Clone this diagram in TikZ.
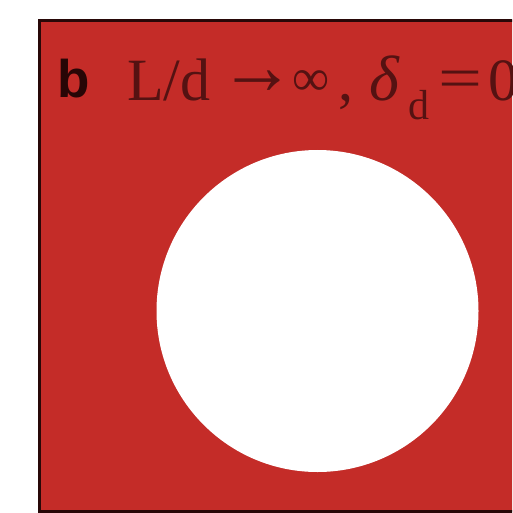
\documentclass[tikz,border=0pt]{standalone}
\usepackage{graphicx}
\usepackage{fontspec}
\newfontfamily\serfont{Liberation Serif}
\newfontfamily\sanfont{Liberation Sans}
\definecolor{panelred}{RGB}{196,44,40}
\definecolor{edgedark}{RGB}{40,8,8}
\definecolor{inkred}{RGB}{85,18,18}
\definecolor{inkdark}{RGB}{40,6,6}
\tikzset{
  txt/.style={inner sep=0pt, outer sep=0pt, anchor=base west, text=inkred, font=\serfont\fontsize{60}{60}\selectfont},
  sub/.style={txt, font=\serfont\fontsize{42}{42}\selectfont},
  mid/.style={inner sep=0pt, outer sep=0pt, anchor=center, text=inkred},
}
\begin{document}
\begin{tikzpicture}[x=1pt,y=-1pt]
\useasboundingbox (0,0) rectangle (512,513);
\clip (0,0) rectangle (512,513);
\fill[white] (0,0) rectangle (512,513);
\draw[fill=panelred, draw=edgedark, line width=3pt] (39,20.5) rectangle (540,511.5);
\fill[white] (317.5,311) circle (161);
\node[txt, text=inkdark, font=\sanfont\bfseries\fontsize{53}{53}\selectfont] (lbl) at (57,98) {b};
\node[txt] (ld) at (127,101) {L/d};
\node[mid, font=\serfont\fontsize{76}{76}\selectfont] (arr) at (257.5,83) {\scalebox{1}[1.1]{→}};
\node[mid, font=\serfont\fontsize{52}{52}\selectfont] (inf) at (311.5,83.5) {∞};
\node[txt] (cm) at (338,101) {,};
\node[txt, font=\serfont\itshape\fontsize{64}{64}\selectfont] (dl) at (369,101) {δ};
\node[sub] (sd) at (408,120) {d};
\node[mid, font=\serfont\fontsize{60}{60}\selectfont] (eq) at (460,84.5) {\scalebox{1.3}[1]{=}};
\node[txt] (zr) at (488,101) {0};
\end{tikzpicture}
\end{document}
